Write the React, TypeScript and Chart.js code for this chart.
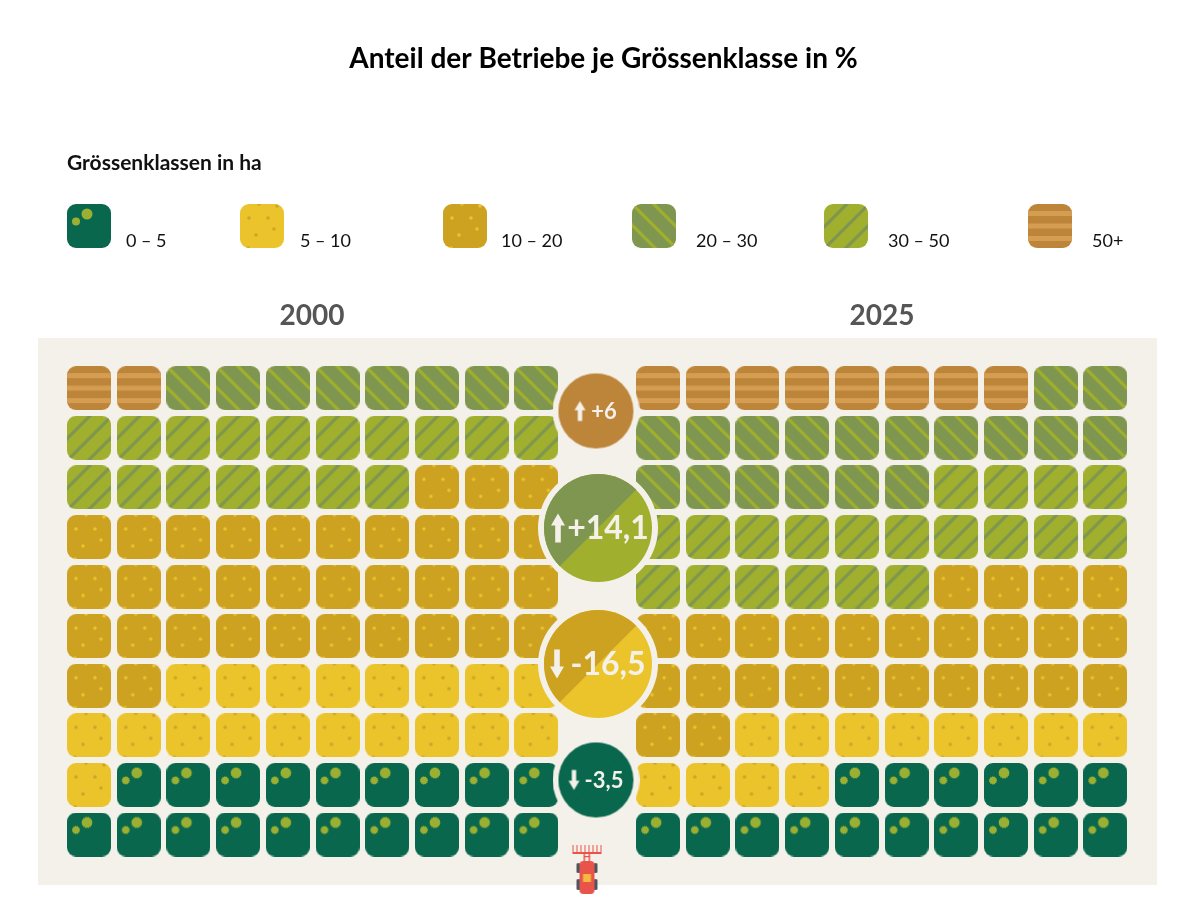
import React, { useEffect, useRef } from 'react';
import { Chart, registerables } from 'chart.js';

Chart.register(...registerables);

const classes = ['0 – 5', '5 – 10', '10 – 20', '20 – 30', '30 – 50', '50+'];
const share2000 = [19, 19, 35, 8, 17, 2];
const share2025 = [16, 12, 26, 18, 20, 8];
// the waffle fills bottom up in this class order
const stackOrder = [0, 1, 2, 4, 3, 5];
const years = ['2000', '2025'];
const deltas = ['+6', '+14,1', '-16,5', '-3,5'];

const FONT = 'Lato, sans-serif';
const PANEL = '#F4F1EA';
const GREEN = '#08674C';
const LEAF = '#9BB033';
const YELLOW = '#EBC42C';
const GOLD = '#CDA220';
const OLIVE = '#7F9650';
const LIME = '#A0B02E';
const BROWN = '#BD853A';
const TAN = '#D49D52';
const TILE = 44;

// pixel layout of the grid, the scales below are set up from these
const TITLE_TOP = 42;
const TITLE_SIZE = 28;
const TITLE_H = TITLE_TOP + TITLE_SIZE * 1.2;
const LEFT_PAD = 8; // title sits a bit right of the page centre
const X0 = 89;
const XSTEP = 49.7;
const Y0 = 834.5;
const YSTEP = 49.6;
const RIGHT_OFFSET = 11.45;
const toCol = (px: number) => (px - X0) / XSTEP;
const toRow = (py: number) => (Y0 - py) / YSTEP;

const legendCenters = [89, 262, 465, 654, 846, 1050];
const legendLabelX = [126, 300, 501, 696, 888, 1092];
const badgeCenters = [
  [596, 411],
  [598, 528],
  [598, 664],
  [596, 780],
];

function makeCanvas(w: number, h: number) {
  const c = document.createElement('canvas');
  c.width = w;
  c.height = h;
  return { c, g: c.getContext('2d')! };
}

function flower(g: CanvasRenderingContext2D, x: number, y: number, r: number, teeth: number) {
  g.beginPath();
  if (teeth === 0) {
    g.arc(x, y, r, 0, Math.PI * 2);
  } else {
    for (let i = 0; i < teeth * 2; i++) {
      const a = (i / (teeth * 2)) * Math.PI * 2;
      const rr = i % 2 ? r - 0.5 : r + 0.3;
      g.lineTo(x + Math.cos(a) * rr, y + Math.sin(a) * rr);
    }
    g.closePath();
  }
  g.fill();
}

function makeTile(index: number, serrated: boolean) {
  const { c, g } = makeCanvas(TILE, TILE);
  const bg = [GREEN, YELLOW, GOLD, OLIVE, LIME, BROWN][index];
  g.beginPath();
  g.roundRect(0, 0, TILE, TILE, 9);
  g.clip();
  g.fillStyle = bg;
  g.fillRect(0, 0, TILE, TILE);
  if (index === 0) {
    g.fillStyle = LEAF;
    flower(g, 20, 10, 5.5, serrated ? 14 : 0);
    flower(g, 9, 17.5, 4, serrated ? 11 : 0);
  }
  if (index === 1 || index === 2) {
    g.fillStyle = index === 1 ? '#CDA528' : '#EBC42C';
    const dots = [[9, 14], [28, 14], [16, 31], [34, 25], [19, 0], [37, 2], [8, 44]];
    dots.forEach(([x, y]) => {
      g.beginPath();
      g.arc(x, y, 1.8, 0, Math.PI * 2);
      g.fill();
    });
  }
  if (index === 3) {
    g.strokeStyle = LIME;
    g.lineWidth = 3.2;
    [21.5, 0, -21].forEach(d => {
      g.beginPath();
      g.moveTo(d - 5, -5);
      g.lineTo(d + 50, 50);
      g.stroke();
    });
  }
  if (index === 4) {
    g.strokeStyle = OLIVE;
    g.lineWidth = 3.2;
    [23, 45, 66].forEach(s => {
      g.beginPath();
      g.moveTo(s + 5, -5);
      g.lineTo(s - 50, 50);
      g.stroke();
    });
  }
  if (index === 5) {
    g.fillStyle = TAN;
    [7, 19.5, 32].forEach(y => g.fillRect(0, y, TILE, 5));
  }
  return c;
}

function makeBadge(r: number, colorA: string, colorB: string, up: boolean, arrowDx: number, arrowH: number, arrowW: number) {
  const halo = r + 6;
  const size = Math.ceil(halo * 2);
  const m = size / 2;
  const { c, g } = makeCanvas(size, size);
  g.fillStyle = PANEL;
  g.beginPath();
  g.arc(m, m, halo, 0, Math.PI * 2);
  g.fill();
  g.save();
  g.beginPath();
  g.arc(m, m, r, 0, Math.PI * 2);
  g.clip();
  g.fillStyle = colorB;
  g.fillRect(0, 0, size, size);
  g.fillStyle = colorA;
  g.beginPath();
  g.moveTo(0, 0);
  g.lineTo(size, 0);
  g.lineTo(0, size);
  g.closePath();
  g.fill();
  g.restore();
  // arrow
  const ax = m + arrowDx;
  const dir = up ? -1 : 1;
  const tip = m + (dir * arrowH) / 2;
  const base = m - (dir * arrowH) / 2;
  const neck = tip - dir * arrowW * 0.85;
  const shaft = arrowW * 0.2;
  g.fillStyle = PANEL;
  g.beginPath();
  g.moveTo(ax, tip);
  g.lineTo(ax + arrowW / 2, neck);
  g.lineTo(ax + shaft, neck);
  g.lineTo(ax + shaft, base);
  g.lineTo(ax - shaft, base);
  g.lineTo(ax - shaft, neck);
  g.lineTo(ax - arrowW / 2, neck);
  g.closePath();
  g.fill();
  return c;
}

function makeTractor() {
  const { c, g } = makeCanvas(34, 54);
  const red = '#E8534A';
  g.fillStyle = red;
  // rake
  g.fillRect(2, 8, 29, 2);
  for (let i = 0; i < 8; i++) g.fillRect(2 + i * 4, 1, 1, 8);
  g.fillRect(13, 9, 1.5, 9);
  g.fillRect(18, 9, 1.5, 9);
  g.fillRect(13, 12, 6.5, 1.2);
  // wheels
  g.fillStyle = '#4F5560';
  g.beginPath();
  g.roundRect(6, 19, 3.5, 10, 1.5);
  g.roundRect(23.5, 19, 3.5, 10, 1.5);
  g.roundRect(6, 35, 3.5, 11, 1.5);
  g.roundRect(23.5, 35, 3.5, 11, 1.5);
  g.fill();
  // body
  g.fillStyle = red;
  g.beginPath();
  g.roundRect(9, 17, 15, 33, 4);
  g.fill();
  g.fillStyle = '#F5B93F';
  g.fillRect(12.5, 30, 8, 8);
  return c;
}

const scatterDefaults = {
  type: 'scatter' as const,
  showLine: false,
  pointRadius: 22,
  pointHoverRadius: 22,
};

function wafflePoints(shares: number[], classIndex: number, offset: number) {
  const pts: { x: number; y: number }[] = [];
  let n = 0;
  stackOrder.forEach(k => {
    for (let i = 0; i < shares[k]; i++) {
      if (k === classIndex) {
        pts.push({ x: offset + 9 - (n % 10), y: Math.floor(n / 10) });
      }
      n++;
    }
  });
  return pts;
}

const labelsPlugin = {
  id: 'labels',
  beforeDatasetsDraw(chart: Chart) {
    const { ctx } = chart;
    ctx.save();
    ctx.fillStyle = PANEL;
    ctx.fillRect(38, 338, 1119, 547);
    ctx.restore();
  },
  afterDatasetsDraw(chart: Chart) {
    const { ctx } = chart;
    ctx.save();
    ctx.textBaseline = 'alphabetic';
    ctx.textAlign = 'left';
    ctx.fillStyle = '#111111';
    ctx.font = `700 21px ${FONT}`;
    ctx.fillText('Grössenklassen in ha', 67, 170);
    ctx.font = `400 18px ${FONT}`;
    classes.forEach((label, i) => ctx.fillText(label, legendLabelX[i], 247));

    ctx.textAlign = 'center';
    ctx.fillStyle = '#555555';
    ctx.font = `700 28px ${FONT}`;
    ctx.fillText(years[0], 312, 325);
    ctx.fillText(years[1], 882, 325);

    // delta values sit right of the arrow in each badge
    const badgeMeta = chart.getDatasetMeta(0);
    ctx.fillStyle = PANEL;
    ctx.textBaseline = 'middle';
    deltas.forEach((d, i) => {
      const el = badgeMeta.data[i];
      const big = i === 1 || i === 2;
      ctx.font = `700 ${big ? 32 : 22}px ${FONT}`;
      ctx.fillText(d, el.x + (big ? 10 : 8), el.y + 1);
    });
    ctx.restore();
  },
};

const App = () => {
  const canvasRef = useRef<HTMLCanvasElement>(null);

  useEffect(() => {
    if (!canvasRef.current) return;
    const badgeStyles = [
      makeBadge(37.5, BROWN, BROWN, true, -16, 20, 11),
      makeBadge(54, OLIVE, LIME, true, -40, 29, 14),
      makeBadge(54, GOLD, YELLOW, false, -41, 29, 14),
      makeBadge(37.5, GREEN, GREEN, false, -22, 20, 11),
    ];
    const tileDatasets = classes.map((label, i) => ({
      ...scatterDefaults,
      label,
      order: 2,
      pointStyle: makeTile(i, true),
      data: [...wafflePoints(share2000, i, 0), ...wafflePoints(share2025, i, RIGHT_OFFSET)],
    }));
    const legendDatasets = classes.map((label, i) => ({
      ...scatterDefaults,
      label: `legend ${label}`,
      order: 2,
      pointStyle: makeTile(i, false),
      data: [{ x: toCol(legendCenters[i]), y: toRow(226) }],
    }));

    const chart = new Chart(canvasRef.current, {
      type: 'scatter',
      data: {
        datasets: [
          {
            ...scatterDefaults,
            label: 'Veränderung',
            order: 0,
            pointRadius: 40,
            pointStyle: badgeStyles as any,
            data: badgeCenters.map(([x, y]) => ({ x: toCol(x), y: toRow(y) })),
          },
          {
            ...scatterDefaults,
            label: 'Traktor',
            order: 1,
            pointStyle: makeTractor(),
            data: [{ x: toCol(587.5), y: toRow(871) }],
          },
          ...tileDatasets,
          ...legendDatasets,
        ] as any,
      },
      options: {
        responsive: false,
        animation: false,
        events: [],
        layout: { padding: { left: LEFT_PAD }, autoPadding: false },
        scales: {
          x: { type: 'linear', display: false, min: toCol(LEFT_PAD), max: toCol(1199) },
          y: { type: 'linear', display: false, min: toRow(900), max: toRow(TITLE_H) },
        },
        plugins: {
          legend: { display: false },
          tooltip: { enabled: false },
          title: {
            display: true,
            text: 'Anteil der Betriebe je Grössenklasse in %',
            color: '#000000',
            font: { family: FONT, size: TITLE_SIZE, weight: 700 },
            padding: { top: TITLE_TOP, bottom: 0 },
          },
        },
      },
      plugins: [labelsPlugin],
    });

    return () => chart.destroy();
  }, []);

  return (
    <div style={{ position: 'absolute', left: 0, top: 0, width: 1199, height: 900, background: '#fff' }}>
      <canvas ref={canvasRef} width={1199} height={900} style={{ display: 'block' }} />
    </div>
  );
};

export default App;
